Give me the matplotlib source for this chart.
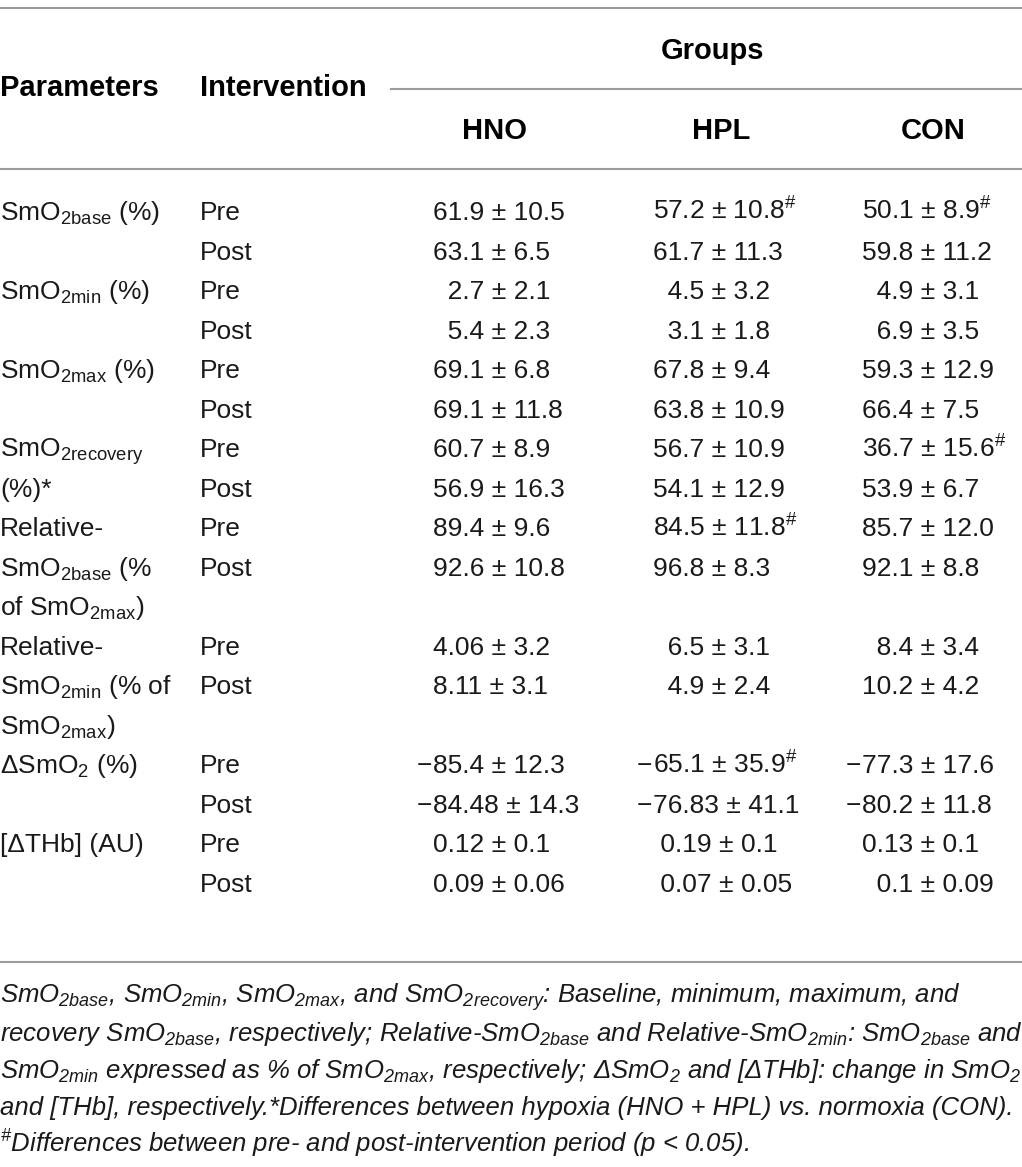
import matplotlib.pyplot as plt

plt.rcParams['font.family'] = ['Liberation Sans', 'DejaVu Sans']
plt.rcParams['mathtext.fontset'] = 'custom'
plt.rcParams['mathtext.rm'] = 'Liberation Sans'
plt.rcParams['mathtext.it'] = 'Liberation Sans:italic'

FS = '\u2007'  # figure space, pads single-digit values
PS = '\u2008'  # punctuation space


def sub(t):
    return r"$_{\mathregular{%s}}$" % t


SUP_HASH = r"$^{\mathregular{\#}}$"

# Table content
groups = ["HNO", "HPL", "CON"]
interventions = ["Pre", "Post"]
param_labels = [
    ["SmO" + sub("2base") + " (%)"],
    ["SmO" + sub("2min") + " (%)"],
    ["SmO" + sub("2max") + " (%)"],
    ["SmO" + sub("2recovery"), "(%)*"],
    ["Relative-", "SmO" + sub("2base") + " (%", "of SmO" + sub("2max") + ")"],
    ["Relative-", "SmO" + sub("2min") + " (% of", "SmO" + sub("2max") + ")"],
    ["\u0394SmO" + sub("2") + " (%)"],
    ["[\u0394THb] (AU)"],
]
hno = ["61.9 ± 10.5", "63.1 ± 6.5", FS + "2.7 ± 2.1", FS + "5.4 ± 2.3",
       "69.1 ± 6.8", "69.1 ± 11.8", "60.7 ± 8.9", "56.9 ± 16.3",
       "89.4 ± 9.6", "92.6 ± 10.8", "4.06 ± 3.2", "8.11 ± 3.1",
       "−85.4 ± 12.3", "−84.48 ± 14.3", "0.12 ± 0.1", "0.09 ± 0.06"]
hpl = ["57.2 ± 10.8#", "61.7 ± 11.3", FS + "4.5 ± 3.2", FS + "3.1 ± 1.8",
       "67.8 ± 9.4", "63.8 ± 10.9", "56.7 ± 10.9", "54.1 ± 12.9",
       "84.5 ± 11.8#", "96.8 ± 8.3", FS + "6.5 ± 3.1", FS + "4.9 ± 2.4",
       "−65.1 ± 35.9#", "−76.83 ± 41.1", PS + "0.19 ± 0.1", PS + "0.07 ± 0.05"]
con = ["50.1 ± 8.9#", "59.8 ± 11.2", FS + "4.9 ± 3.1", FS + "6.9 ± 3.5",
       "59.3 ± 12.9", "66.4 ± 7.5", "36.7 ± 15.6#", "53.9 ± 6.7",
       "85.7 ± 12.0", "92.1 ± 8.8", FS + "8.4 ± 3.4", "10.2 ± 4.2",
       "−77.3 ± 17.6", "−80.2 ± 11.8", "0.13 ± 0.1", FS + "0.1 ± 0.09"]
footnote = [
    "SmO" + sub("2base") + ", SmO" + sub("2min") + ", SmO" + sub("2max")
    + ", and SmO" + sub("2recovery") + ": Baseline, minimum, maximum, and",
    "recovery SmO" + sub("2base") + ", respectively; Relative-SmO" + sub("2base")
    + " and Relative-SmO" + sub("2min") + ": SmO" + sub("2base") + " and",
    "SmO" + sub("2min") + " expressed as % of SmO" + sub("2max")
    + ", respectively; \u0394SmO" + sub("2") + " and [\u0394THb]: change in SmO" + sub("2"),
    "and [THb], respectively.*Differences between hypoxia (HNO + HPL) vs. normoxia (CON).",
    SUP_HASH + "Differences between pre- and post-intervention period (p < 0.05).",
]

# Layout (pixels)
W, H = 1022, 1167
row0, row_h = 220, 39.53
col_param, col_int = 0, 200
val_x = [433, 653, 862]
head_x = [495, 721, 933]
line_c = '#9b9b9b'
txt_c = '#1a1a1a'
body_fs = 19
head_fs = 21
foot_fs = 18.5

fig = plt.figure(figsize=(W / 100, H / 100), dpi=100)
ax = fig.add_axes([0, 0, 1, 1])
ax.set_xlim(0, W)
ax.set_ylim(H, 0)
ax.axis('off')

# rules
ax.plot([0, W], [8, 8], color=line_c, lw=1.5)
ax.plot([391, W], [89, 89], color=line_c, lw=1.5)
ax.plot([0, W], [169, 169], color=line_c, lw=1.5)
ax.plot([0, W], [962, 962], color=line_c, lw=1.5)

# header
hkw = dict(fontsize=head_fs, fontweight='bold', color='black', va='baseline')
ax.text(col_param, 96, "Parameters", ha='left', **hkw)
ax.text(col_int, 96, "Intervention", ha='left', **hkw)
ax.text(712, 59, "Groups", ha='center', **hkw)
for g, x in zip(groups, head_x):
    ax.text(x, 139, g, ha='center', **hkw)

bkw = dict(fontsize=body_fs, color=txt_c, va='baseline')


def put_value(x, y, s):
    s = s.replace('#', SUP_HASH)
    if s.startswith('−'):
        # hanging minus sign
        ax.text(x - 1, y, '−', ha='right', **bkw)
        s = s[1:]
    ax.text(x, y, s, ha='left', **bkw)


row = 0
k = 0
for label in param_labels:
    n = max(2, len(label))
    for j, line in enumerate(label):
        ax.text(col_param, row0 + (row + j) * row_h, line, ha='left', **bkw)
    for j, iv in enumerate(interventions):
        y = row0 + (row + j) * row_h
        ax.text(col_int, y, iv, ha='left', **bkw)
        for vals, x in zip([hno, hpl, con], val_x):
            put_value(x, y, vals[k + j])
    k += 2
    row += n

# footnote
for i, line in enumerate(footnote):
    ax.text(0, 1003 + i * 37.5, line, ha='left', va='baseline',
            fontsize=foot_fs, fontstyle='italic', color=txt_c)

fig.savefig('out.png', dpi=100)
